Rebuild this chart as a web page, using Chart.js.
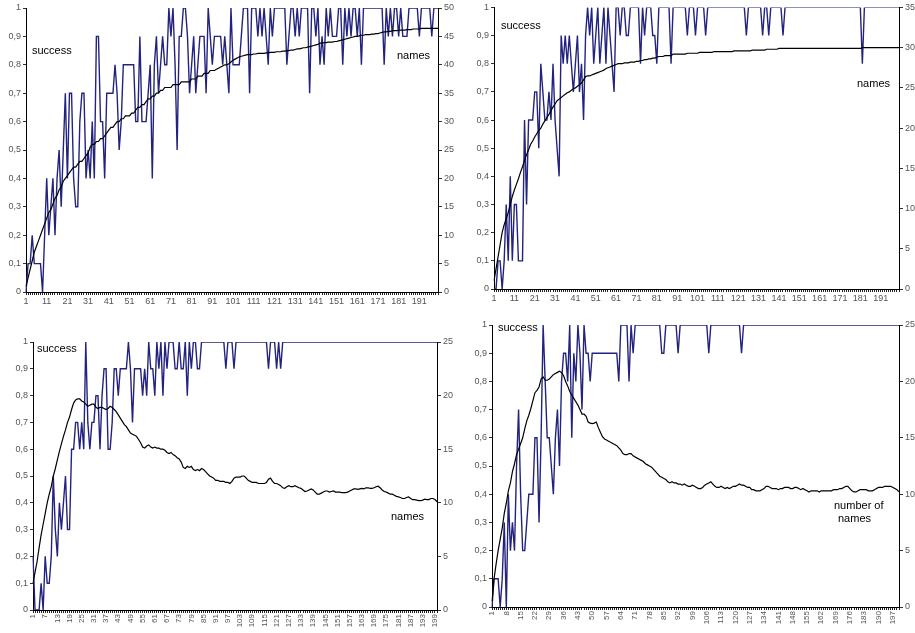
<!DOCTYPE html>
<html>
<head>
<meta charset="utf-8">
<script src="https://cdn.jsdelivr.net/npm/chart.js@4.4.1/dist/chart.umd.min.js"></script>
<style>
  html, body {
    margin: 0;
    padding: 0;
    background: #fff;
    width: 915px;
    height: 633px;
    overflow: hidden;
    position: relative;
    font-family: "Liberation Sans", Arial, sans-serif;
  }
  canvas { position: absolute; }
  .lbl {
    position: absolute;
    font-size: 11px;
    line-height: 1;
    color: #000;
    white-space: nowrap;
  }
</style>
</head>
<body>
<canvas id="chartTL" width="455" height="310" style="left:0;top:0"></canvas>
<canvas id="chartTR" width="455" height="305" style="left:460px;top:0"></canvas>
<canvas id="chartBL" width="455" height="318" style="left:0;top:315px"></canvas>
<canvas id="chartBR" width="455" height="318" style="left:460px;top:315px"></canvas>

<div class="lbl" style="left:32px;top:45px">success</div>
<div class="lbl" style="left:397px;top:50px">names</div>
<div class="lbl" style="left:501px;top:20px">success</div>
<div class="lbl" style="left:857px;top:78px">names</div>
<div class="lbl" style="left:37px;top:343px">success</div>
<div class="lbl" style="left:391px;top:511px">names</div>
<div class="lbl" style="left:498px;top:322px">success</div>
<div class="lbl" style="left:834px;top:500px">number of</div>
<div class="lbl" style="left:838px;top:513px">names</div>

<script>
// x categories: runs 1..200
const points = Array.from({ length: 200 }, (_, i) => i + 1);

// top left
const successTL = [
  0,0.1,0.1,0.2,0.1,0.1,0.1,0.1,0,0.2,
  0.4,0.2,0.3,0.4,0.2,0.4,0.5,0.3,0.5,0.7,
  0.4,0.7,0.7,0.4,0.3,0.3,0.6,0.7,0.7,0.4,
  0.5,0.4,0.6,0.4,0.9,0.9,0.6,0.6,0.4,0.7,
  0.7,0.7,0.7,0.8,0.7,0.5,0.6,0.8,0.8,0.8,
  0.8,0.8,0.8,0.6,0.6,0.9,0.6,0.6,0.6,0.7,
  0.8,0.4,0.8,0.9,0.7,0.8,0.9,0.8,0.8,1,
  0.9,1,0.8,0.5,0.9,0.9,1,1,0.9,0.7,
  0.8,0.9,0.7,0.8,0.9,0.9,0.9,0.7,1,0.9,
  0.8,0.9,0.9,0.9,0.9,0.8,0.9,0.8,0.7,1,
  0.8,0.8,0.8,0.8,0.9,1,1,1,0.7,1,
  1,1,0.9,1,0.9,1,0.9,0.8,1,0.9,
  1,1,1,1,1,1,0.8,0.9,1,1,
  0.9,1,0.9,1,1,1,1,0.7,1,1,
  0.9,1,0.8,0.9,0.8,1,0.9,1,0.9,0.9,
  0.9,1,1,0.8,1,0.9,1,0.9,1,1,
  0.9,1,0.8,1,1,1,1,1,1,1,
  1,1,1,0.8,1,0.9,1,0.9,1,1,
  0.9,1,0.9,0.9,0.9,1,1,1,1,1,
  0.9,1,1,1,1,1,0.9,1,1,1
];
const namesTL = [
  1,2.5,4,5.5,7,8,9,10,11,12,
  13,14,14.5,15.5,16.5,17,18,18.5,19.5,20,
  20.5,21,21.5,22,22,22.5,23,23,23.5,24,
  24.5,25.5,26,26,26.5,26.5,27,27,27.5,28,
  28.5,29,29,29.5,30,30,30.5,30.5,31,31,
  31,31.5,31.5,32,32.5,32.5,33,33,33.5,34,
  34,34.5,34.5,35,35,35.5,35.5,36,36,36,
  36,36.5,36.5,36.5,36.5,37,37,37,37,37,
  37.5,37.5,37.5,38,38,38,38.5,38.5,38.5,39,
  39,39,39.2,39.4,39.6,39.8,40,40,40.2,40.5,
  40.8,41,41.2,41.4,41.5,41.6,41.7,41.8,41.8,41.8,
  41.9,41.9,42,42,42,42,42.1,42.1,42.2,42.2,
  42.2,42.3,42.3,42.3,42.4,42.4,42.5,42.5,42.6,42.6,
  42.7,42.8,42.8,42.9,43,43,43.1,43.2,43.3,43.4,
  43.5,43.6,43.8,43.8,43.9,43.9,44,44,44,44.1,
  44.1,44.2,44.3,44.4,44.5,44.6,44.7,44.8,44.9,45,
  45,45.1,45.2,45.2,45.3,45.3,45.3,45.4,45.4,45.5,
  45.5,45.6,45.7,45.8,45.8,45.9,45.9,46,46,46,
  46.1,46.1,46.1,46.1,46.2,46.2,46.2,46.3,46.3,46.3,
  46.3,46.4,46.4,46.4,46.4,46.4,46.4,46.4,46.4,46.4
];

// top right
const successTR = [
  0,0,0.1,0.1,0,0.1,0.3,0.1,0.4,0.1,
  0.3,0.3,0.1,0.1,0.1,0.6,0.3,0.6,0.6,0.6,
  0.7,0.7,0.5,0.8,0.7,0.6,0.6,0.7,0.6,0.8,
  0.6,0.5,0.4,0.9,0.8,0.9,0.8,0.9,0.8,0.7,
  0.8,0.9,0.7,0.8,0.6,0.9,1,0.9,1,0.8,
  0.9,1,0.8,0.9,1,0.8,1,0.9,0.8,0.7,
  1,1,0.9,1,1,0.9,0.9,1,1,1,
  1,1,0.8,1,0.9,1,1,1,0.9,0.9,
  0.8,1,1,1,1,1,1,0.8,1,1,
  1,1,1,1,1,0.9,1,1,1,0.9,
  1,1,1,1,0.9,1,1,1,1,1,
  1,1,1,1,1,1,1,1,1,1,
  1,1,1,1,0.9,1,1,1,1,1,
  1,1,0.9,1,1,0.9,1,1,1,1,
  1,1,0.9,1,1,1,1,1,1,1,
  1,1,1,1,1,1,1,1,1,1,
  1,1,1,1,1,1,1,1,1,1,
  1,1,1,1,1,1,1,1,1,1,
  1,0.8,1,1,1,1,1,1,1,1,
  1,1,1,1,1,1,1,1,1,1
];
const namesTR = [
  1,2.5,4,5.5,7,8,8.7,9.5,10.5,11.5,
  12.3,13,13.7,14.5,15.2,16,16.7,17.3,18,18.4,
  18.9,19.3,19.7,20,20.5,20.9,21.3,21.7,22.2,22.6,
  23,23.4,23.6,23.8,24,24.2,24.4,24.5,24.7,24.9,
  25,25.2,25.4,25.6,26,26.4,26.5,26.5,26.6,26.7,
  26.8,26.9,27,27.1,27.2,27.4,27.5,27.6,27.7,27.8,
  27.9,28,28,28,28.1,28.1,28.1,28.2,28.2,28.2,
  28.3,28.3,28.4,28.4,28.5,28.5,28.6,28.6,28.7,28.7,
  28.8,28.9,28.9,28.9,29,29,29,29,29.2,29.2,
  29.2,29.2,29.2,29.2,29.2,29.3,29.3,29.3,29.3,29.3,
  29.3,29.4,29.4,29.4,29.4,29.4,29.4,29.4,29.5,29.5,
  29.5,29.5,29.5,29.5,29.5,29.5,29.5,29.5,29.6,29.6,
  29.6,29.6,29.6,29.6,29.6,29.6,29.6,29.7,29.7,29.7,
  29.7,29.7,29.7,29.7,29.8,29.8,29.8,29.8,29.8,29.8,
  29.9,29.9,29.9,29.9,29.9,29.9,29.9,29.9,29.9,29.9,
  29.9,29.9,29.9,29.9,29.9,29.9,29.9,29.9,29.9,29.9,
  29.9,29.9,29.9,29.9,29.9,29.9,29.9,29.9,29.9,29.9,
  29.9,29.9,29.9,29.9,29.9,29.9,29.9,29.9,29.9,29.9,
  29.9,30,30,30,30,30,30,30,30,30,
  30,30,30,30,30,30,30,30,30,30
];

// bottom left
const successBL = [
  0.2,0,0,0,0.1,0,0.2,0.1,0.1,0.2,
  0.5,0.3,0.2,0.4,0.3,0.4,0.5,0.3,0.3,0.6,
  0.6,0.7,0.7,0.6,0.7,0.6,1,0.7,0.6,0.7,
  0.7,0.8,0.8,0.6,0.8,0.9,0.9,0.6,0.6,0.7,
  0.9,0.9,0.8,0.9,0.9,0.9,0.9,1,0.9,0.7,
  0.9,0.9,0.9,0.9,0.8,0.9,0.8,1,0.9,0.9,
  0.8,1,0.9,1,0.8,1,0.9,1,1,1,
  0.9,0.9,1,0.9,0.9,1,0.8,1,0.9,1,
  1,0.9,0.9,1,1,1,1,1,1,1,
  1,1,1,1,1,0.9,1,1,1,0.9,
  1,1,1,1,1,1,1,1,1,1,
  1,1,1,1,1,1,0.9,1,1,1,
  0.9,1,0.9,1,1,1,1,1,1,1,
  1,1,1,1,1,1,1,1,1,1,
  1,1,1,1,1,1,1,1,1,1,
  1,1,1,1,1,1,1,1,1,1,
  1,1,1,1,1,1,1,1,1,1,
  1,1,1,1,1,1,1,1,1,1,
  1,1,1,1,1,1,1,1,1,1,
  1,1,1,1,1,1,1,1,1,1
];
const namesBL = [
  2.5,3.5,4.5,5.8,7,8,9,10,10.8,11.5,
  12.5,13.2,14,14.8,15.5,16.2,16.8,17.5,18,18.7,
  19.3,19.6,19.7,19.7,19.5,19.4,19.2,19,19.1,19.2,
  19.2,18.9,18.8,18.9,18.9,18.8,18.7,18.8,19,18.9,
  18.7,18.5,18.2,17.9,17.6,17.3,17.1,16.8,16.5,16.4,
  16.3,16.2,15.9,15.6,15.2,15.1,15.3,15.4,15.2,15.1,
  15.2,15.1,15.1,15,15,14.9,14.7,14.6,14.7,14.5,
  14.4,14.2,14.1,13.8,13.3,13.2,13.4,13.3,13.4,13.1,
  13,13.1,13,13.2,13.1,12.9,12.7,12.5,12.4,12.3,
  12.1,12.1,12,12,12,11.9,11.9,11.8,12,12.3,
  12.4,12.4,12.4,12.5,12.5,12.3,12.1,12,11.9,11.9,
  11.9,11.8,11.8,11.8,11.8,11.9,12.2,12.3,12,11.8,
  11.8,11.7,11.6,11.4,11.35,11.5,11.6,11.5,11.5,11.6,
  11.5,11.4,11.35,11.2,11.05,11.1,11.2,11.3,11.2,11,
  10.8,10.8,10.9,11,11.1,11.1,11,11.05,11.1,11,
  11,11,10.95,10.95,10.95,11,11.1,11.2,11.3,11.3,
  11.25,11.3,11.35,11.3,11.4,11.4,11.35,11.35,11.4,11.5,
  11.55,11.4,11.2,11.05,11,10.9,10.8,10.8,10.7,10.6,
  10.55,10.5,10.4,10.4,10.5,10.55,10.4,10.3,10.3,10.25,
  10.2,10.2,10.25,10.35,10.3,10.3,10.4,10.4,10.3,10.1
];

// bottom right
const successBR = [
  0,0.1,0.1,0.1,0,0.1,0.3,0,0.4,0.2,
  0.3,0.2,0.5,0.7,0.4,0.2,0.2,0.3,0.4,0.4,
  0.4,0.6,0.6,0.3,0.6,1,0.8,0.6,0.6,0.5,
  0.4,0.6,0.7,0.5,0.8,0.9,0.9,0.8,1,0.6,
  0.9,0.8,1,0.9,0.7,1,0.9,0.9,0.8,0.9,
  0.9,0.9,0.9,0.9,0.9,0.9,0.9,0.9,0.9,0.9,
  0.9,0.9,0.8,1,1,1,1,0.8,1,0.9,
  1,1,1,1,1,1,1,1,1,1,
  1,1,1,0.9,0.9,1,1,1,1,1,
  1,0.9,1,1,1,1,1,1,1,1,
  1,1,1,1,1,1,0.9,1,1,1,
  1,1,1,1,1,1,1,1,1,1,
  1,1,0.9,1,1,1,1,1,1,1,
  1,1,1,1,1,1,1,1,1,1,
  1,1,1,1,1,1,1,1,1,1,
  1,1,1,1,1,1,1,1,1,1,
  1,1,1,1,1,1,1,1,1,1,
  1,1,1,1,1,1,1,1,1,1,
  1,1,1,1,1,1,1,1,1,1,
  1,1,1,1,1,1,1,1,1,1
];
const namesBR = [
  0.5,2.5,3.8,5,6,7,8.3,9.2,10.3,11,
  12,12.7,13.5,14,14.5,15,15.8,16.5,17,17.6,
  18.3,19,19.2,19.5,20.2,20.4,20.1,20.1,20.2,20.4,
  20.6,20.7,20.8,20.9,20.8,20.5,20,19.6,19.1,18.8,
  18.5,18.2,17.9,17.5,17.1,17.1,16.9,16.4,16.3,16.25,
  16.3,16.4,15.9,15.5,15.1,14.9,14.8,14.7,14.6,14.5,
  14.4,14.3,14.1,13.9,13.6,13.5,13.5,13.6,13.6,13.4,
  13.3,13.2,13.1,13,12.9,12.7,12.6,12.5,12.4,12.2,
  12,11.8,11.6,11.5,11.4,11.3,11.1,11,11.1,11,
  11,10.9,10.9,10.8,10.9,10.8,10.7,10.7,10.8,10.7,
  10.6,10.5,10.5,10.6,10.8,10.9,11,11.1,10.9,10.7,
  10.6,10.6,10.7,10.6,10.5,10.6,10.5,10.6,10.7,10.7,
  10.8,10.9,10.8,10.8,10.7,10.6,10.6,10.4,10.4,10.3,
  10.3,10.3,10.4,10.5,10.7,10.7,10.6,10.5,10.5,10.5,
  10.4,10.5,10.5,10.6,10.6,10.6,10.5,10.5,10.6,10.6,
  10.5,10.4,10.5,10.4,10.3,10.2,10.3,10.3,10.3,10.3,
  10.2,10.3,10.3,10.3,10.3,10.3,10.3,10.4,10.4,10.4,
  10.5,10.5,10.6,10.7,10.7,10.5,10.3,10.2,10.2,10.3,
  10.4,10.4,10.4,10.4,10.3,10.3,10.3,10.4,10.5,10.6,
  10.6,10.6,10.7,10.7,10.7,10.7,10.6,10.5,10.4,10.2
];

Chart.defaults.font.family = '"Liberation Sans", Arial, sans-serif';

const tickColor = '#555';

function fmtShare(v) {
  if (v === 0) return '0';
  if (Math.abs(v - 1) < 1e-9) return '1';
  return v.toFixed(1).replace('.', ',');
}

function criarPainel(id, success, names, namesMax, every, rot, box) {
  const ctx = document.getElementById(id);

  return new Chart(ctx, {
    type: 'line',
    data: {
      labels: points,
      datasets: [
        {
          label: 'names',
          data: names,
          yAxisID: 'y1',
          borderColor: '#000',
          borderWidth: 1.2,
          pointRadius: 0,
          tension: 0
        },
        {
          label: 'success',
          data: success,
          yAxisID: 'y',
          borderColor: '#23237f',
          borderWidth: 1.4,
          pointRadius: 0,
          tension: 0
        }
      ]
    },
    options: {
      responsive: false,
      animation: false,
      devicePixelRatio: 1,
      layout: { padding: { top: box.top, left: 0, right: 0, bottom: 0 } },
      plugins: {
        legend: { display: false },
        tooltip: { enabled: false }
      },
      scales: {
        x: {
          type: 'category',
          offset: false,
          grid: {
            display: true,
            drawOnChartArea: false,
            drawTicks: true,
            tickLength: 3,
            color: '#222',
            lineWidth: 1
          },
          border: { display: true, color: '#000', width: 1 },
          ticks: {
            autoSkip: false,
            maxRotation: rot,
            minRotation: rot,
            color: tickColor,
            padding: 1,
            font: { size: rot ? 8 : 9 },
            callback: (v, i) => (i % every === 0 ? String(points[i]) : '')
          },
          afterFit: (s) => { s.height = box.xh; }
        },
        y: {
          position: 'left',
          min: 0,
          max: 1,
          grid: {
            display: true,
            drawOnChartArea: false,
            drawTicks: true,
            tickLength: 3,
            color: '#333'
          },
          border: { display: true, color: '#000', width: 1 },
          ticks: {
            stepSize: 0.1,
            color: tickColor,
            padding: 2,
            font: { size: 9 },
            callback: fmtShare
          },
          afterFit: (s) => { s.width = box.left; }
        },
        y1: {
          position: 'right',
          min: 0,
          max: namesMax,
          grid: {
            display: true,
            drawOnChartArea: false,
            drawTicks: true,
            tickLength: 4,
            color: '#333'
          },
          border: { display: true, color: '#000', width: 1 },
          ticks: {
            stepSize: 5,
            color: tickColor,
            padding: 2,
            font: { size: 9 }
          },
          afterFit: (s) => { s.width = box.right; }
        }
      }
    }
  });
}

criarPainel('chartTL', successTL, namesTL, 50, 10, 0, { left: 26, right: 17, top: 8, xh: 18 });
criarPainel('chartTR', successTR, namesTR, 35, 10, 0, { left: 34, right: 16, top: 7, xh: 16 });
criarPainel('chartBL', successBL, namesBL, 25, 6, 90, { left: 33, right: 18, top: 27, xh: 23 });
criarPainel('chartBR', successBR, namesBR, 25, 7, 90, { left: 32, right: 16, top: 10, xh: 26 });
</script>
</body>
</html>
